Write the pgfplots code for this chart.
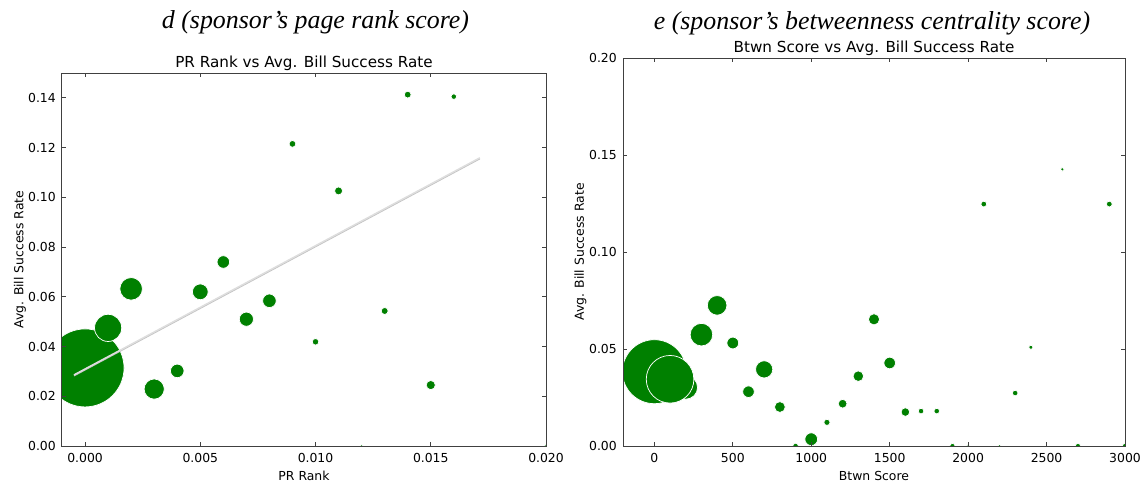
\documentclass[border=0pt]{standalone}
\usepackage{pgfplots}
\pgfplotsset{compat=1.18}
\usepackage{pgfplotstable}
\usepackage{fontspec}
\setmainfont{DejaVu Sans}
\newfontfamily\titlefont{Liberation Serif}

\definecolor{mplgreen}{RGB}{0,128,0}
\definecolor{framegray}{RGB}{64,64,64}

% PageRank score of the sponsor, mean bill success rate, bubble radius
\pgfplotstableread{
x      y       r
0.000  0.0314  39.0
0.001  0.0475  13.6
0.002  0.0632  11.3
0.003  0.0229  10.1
0.004  0.0302  6.8
0.005  0.0620  7.9
0.006  0.0740  6.3
0.007  0.0510  7.1
0.008  0.0584  6.8
0.009  0.1215  3.4
0.010  0.0419  3.3
0.011  0.1026  4.0
0.012  0.0000  1.6
0.013  0.0543  3.5
0.014  0.1413  3.4
0.015  0.0245  4.6
0.016  0.1405  2.8
0.020  0.0000  1.6
}\prdata

% betweenness score of the sponsor, mean bill success rate, bubble radius
\pgfplotstableread{
x     y       r
0     0.0383  32.0
200   0.0302  11.8
100   0.0344  23.8
300   0.0574  11.3
400   0.0725  9.8
500   0.0531  5.9
600   0.0280  5.8
700   0.0395  8.6
800   0.0201  5.4
900   0.0000  2.8
1000  0.0035  6.4
1100  0.0122  3.1
1200  0.0218  4.4
1300  0.0360  5.3
1400  0.0653  5.6
1500  0.0428  5.8
1600  0.0175  4.3
1700  0.0180  2.8
1800  0.0180  2.8
1900  0.0000  2.6
2000  0.0000  1.6
2100  0.1247  2.9
2200  0.0000  1.6
2300  0.0273  2.8
2400  0.0509  2.0
2600  0.1426  1.9
2700  0.0000  2.6
2900  0.1247  2.9
3000  0.0000  2.6
}\btwndata

\pgfplotsset{
  mplaxis/.style={
    scale only axis,
    axis on top,
    axis line style={framegray, line width=0.75pt},
    tick align=inside,
    major tick length=3pt,
    minor tick num=0,
    tick style={framegray, line width=0.6pt},
    every tick label/.append style={font=\fontsize{9.3}{11}\selectfont, inner sep=0pt},
    xticklabel style={yshift=-5.25pt},
    yticklabel style={xshift=-4.5pt},
    label style={font=\fontsize{9.3}{11}\selectfont},
    xlabel style={at={(axis description cs:0.5,0)}, anchor=base, yshift=-25.8pt},
    title style={font=\fontsize{11.4}{13}\selectfont, at={(axis description cs:0.5,1)}, anchor=base, yshift=-1.5pt},
    /pgf/number format/assume math mode=true,
    /pgf/number format/1000 sep={},
    scaled ticks=false,
    clip=true,
    clip mode=individual,
    clip marker paths=true,
  },
  bubbles/.style={
    scatter, only marks, mark=*,
    scatter/use mapped color={draw=white, fill=mplgreen},
    visualization depends on={0.75*\thisrow{r} \as \rad},
    scatter/@pre marker code/.append style={/tikz/mark size=\rad},
    mark options={line width=0.55pt},
  },
}

\begin{document}
\begin{tikzpicture}
\useasboundingbox (0,0) rectangle (859.5pt,365.25pt);

\node[anchor=base, font={\titlefont\itshape\fontsize{19.4}{23}\selectfont}]
  at (236.6pt,344.25pt) {d (sponsor’s page rank score)};
\node[anchor=base, font={\titlefont\itshape\fontsize{19.4}{23}\selectfont}]
  at (654pt,343.5pt) {e (sponsor’s betweenness centrality score)};

\begin{axis}[mplaxis,
  at={(46.5pt,30.75pt)}, anchor=south west,
  width=363pt, height=279.75pt,
  xmin=-0.001, xmax=0.020, ymin=0, ymax=0.15,
  xtick={0,0.005,0.010,0.015,0.020},
  ytick={0,0.02,0.04,0.06,0.08,0.10,0.12,0.14},
  xticklabel style={/pgf/number format/.cd, fixed, fixed zerofill, precision=3},
  yticklabel style={/pgf/number format/.cd, fixed, fixed zerofill, precision=2},
  title={PR Rank vs Avg. Bill Success Rate},
  xlabel={PR Rank},
  ylabel={Avg. Bill Success Rate},
  ylabel style={at={(axis description cs:-0.080,0.5)}, anchor=base},
]
\addplot[bubbles] table[x=x, y=y] {\prdata};
% least-squares trend line with a soft shadow
\addplot[black!24, line width=1.2pt] coordinates {(-0.00048,0.02830) (0.01713,0.11560)};
\addplot[black!13, line width=1.1pt] coordinates {(-0.00048,0.02860) (0.01713,0.11590)};
\end{axis}

\begin{axis}[mplaxis,
  at={(467.25pt,30.75pt)}, anchor=south west,
  width=376.5pt, height=291pt,
  xmin=-200, xmax=3000, ymin=0, ymax=0.20,
  xtick={0,500,1000,1500,2000,2500,3000},
  ytick={0,0.05,0.10,0.15,0.20},
  yticklabel style={/pgf/number format/.cd, fixed, fixed zerofill, precision=2},
  title={Btwn Score vs Avg. Bill Success Rate},
  xlabel={Btwn Score},
  ylabel={Avg. Bill Success Rate},
  ylabel style={at={(axis description cs:-0.078,0.5)}, anchor=base},
]
\addplot[bubbles] table[x=x, y=y] {\btwndata};
\end{axis}
\end{tikzpicture}
\end{document}
